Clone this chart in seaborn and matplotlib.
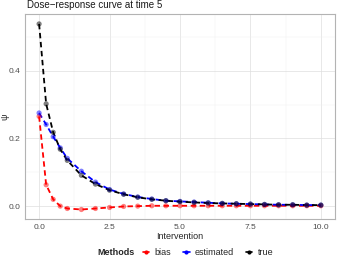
import numpy as np
import pandas as pd
import seaborn as sns
import matplotlib.pyplot as plt

# %% Data
intervention = [0, 0.25, 0.5, 0.75, 1, 1.5, 2, 2.5, 3, 3.5, 4, 4.5, 5,
                5.5, 6, 6.5, 7, 7.5, 8, 8.5, 9, 9.5, 10]
psi_bias = [0.265, 0.063, 0.020, 0.000, -0.007, -0.010, -0.007, -0.004, -0.001,
            0.000, 0.001, 0.001, 0.001, 0.001, 0.001, 0.001, 0.001, 0.001,
            0.001, 0.001, 0.001, 0.001, 0.001]
psi_estimated = [0.275, 0.241, 0.205, 0.172, 0.141, 0.103, 0.071, 0.049, 0.036,
                 0.027, 0.021, 0.016, 0.014, 0.012, 0.010, 0.008, 0.007, 0.006,
                 0.005, 0.004, 0.004, 0.003, 0.003]
psi_true = [0.538, 0.302, 0.218, 0.168, 0.135, 0.091, 0.065, 0.047, 0.035,
            0.026, 0.020, 0.016, 0.013, 0.011, 0.009, 0.008, 0.007, 0.006,
            0.005, 0.004, 0.004, 0.003, 0.003]
methods = ["bias", "estimated", "true"]
colors = ["#FF0000", "#0000FF", "#000000"]

df = pd.DataFrame({
    "Intervention": intervention * 3,
    "psi": psi_bias + psi_estimated + psi_true,
    "Methods": np.repeat(methods, len(intervention)),
})
pal = dict(zip(methods, colors))

# %% Plot
sns.set_style("white")
plt.rcParams["font.family"] = ["Liberation Sans", "DejaVu Sans"]

fig = plt.figure(figsize=(3.38, 2.63), dpi=100)
ax = fig.add_axes([0.074, 0.168, 0.917, 0.779])

sns.scatterplot(data=df, x="Intervention", y="psi", hue="Methods", palette=pal,
                s=14, linewidth=0, alpha=0.5, legend=False, ax=ax, zorder=3)
sns.lineplot(data=df, x="Intervention", y="psi", hue="Methods", palette=pal,
             linestyle="--", linewidth=1.3, legend=False, ax=ax, zorder=2)
for line in ax.lines:
    line.set_dashes([3, 2])

ax.set_xlim(-0.5, 10.5)
ax.set_ylim(-0.0375, 0.5675)
ax.set_xticks([0, 2.5, 5, 7.5, 10])
ax.set_xticklabels(["0.0", "2.5", "5.0", "7.5", "10.0"])
ax.set_yticks([0, 0.2, 0.4])
ax.set_yticklabels(["0.0", "0.2", "0.4"])
ax.set_xticks(np.arange(1.25, 10, 2.5), minor=True)
ax.set_yticks([0.1, 0.3, 0.5], minor=True)
ax.grid(True, which="major", color="#dedede", linewidth=0.5)
ax.grid(True, which="minor", color="#efefef", linewidth=0.35)
ax.set_axisbelow(True)
for s in ax.spines.values():
    s.set_color("#b3b3b3")
    s.set_linewidth(0.8)
ax.tick_params(axis="both", which="major", labelsize=6, colors="#b3b3b3",
               length=2, width=0.5, pad=1.5, labelcolor="#4d4d4d")
ax.tick_params(axis="both", which="minor", length=0)
ax.set_xlabel("Intervention", fontsize=6.5, labelpad=1)
ax.set_ylabel("ψ", fontsize=6.5, rotation=90)
ax.yaxis.set_label_coords(-0.05, 0.5)
ax.set_title("Dose−response curve at time 5", fontsize=7, loc="left",
             x=0.006, pad=4, color="#1a1a1a")

handles = [plt.Line2D([], [], color=c, marker="o", markersize=3,
                      markeredgewidth=0, linestyle="-", linewidth=1.2) for c in colors]
fig.text(0.287, 0.04, "Methods", fontsize=6.5, fontweight="bold", va="center")
fig.legend(handles, methods, loc="center left", bbox_to_anchor=(0.41, 0.04),
           ncol=3, frameon=False, fontsize=6.5, handlelength=0.7,
           handletextpad=0.6, columnspacing=1.3, borderpad=0)

plt.savefig("out.png", dpi=100)
